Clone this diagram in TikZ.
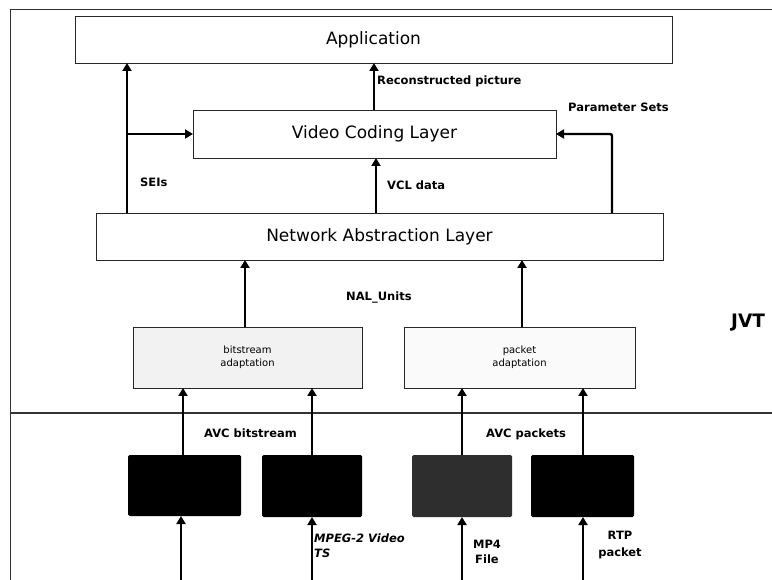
\documentclass[tikz,border=0pt]{standalone}
\usepackage{fontspec}
\setmainfont{DejaVu Sans}
\usetikzlibrary{arrows.meta}
\tikzset{
  x=1pt,y=-1pt,
  layerbox/.style={draw=black!85,line width=0.8pt,fill=white,inner sep=0pt,outer sep=0pt,font=\fontsize{17}{20}\selectfont},
  adaptbox/.style={draw=black!85,line width=0.8pt,inner sep=0pt,outer sep=0pt,align=center,font=\fontsize{10}{13}\selectfont},
  srcbox/.style={fill=black,rounded corners=1.5pt,inner sep=0pt,outer sep=0pt},
  arr/.style={line width=2.4pt,-{Triangle[length=8pt,width=9pt]}},
  lbl/.style={inner sep=0pt,anchor=west,font=\fontsize{11.5}{15}\selectfont\bfseries},
  frameline/.style={line width=0.9pt,draw=black!80}
}
\begin{document}
\begin{tikzpicture}
\useasboundingbox (0,0) rectangle (772,580);
% frame
\coordinate (ftl) at (10,9);
\coordinate (ftr) at (772,9);
\coordinate (fbl) at (10,580);
\coordinate (sl) at (10,413);
\coordinate (sr) at (772,413);
\draw[frameline] (fbl) -- (ftl) -- (ftr);
\draw[frameline,line width=1.2pt] (sl) -- (sr);
% layer boxes
\node[layerbox,minimum width=597pt,minimum height=47pt] (app) at (373.5,39.5) {Application};
\node[layerbox,minimum width=363pt,minimum height=48pt] (vcl) at (374.5,134) {Video Coding Layer};
\node[layerbox,minimum width=567pt,minimum height=47pt] (nal) at (379.5,236.5) {Network Abstraction Layer};
\node[adaptbox,fill=black!5,minimum width=229pt,minimum height=61pt] (bsa) at (247.5,357.5) {bitstream\\adaptation};
\node[adaptbox,fill=black!2,minimum width=231pt,minimum height=61pt] (pka) at (519.5,357.5) {packet\\adaptation};
% source boxes
\node[srcbox,minimum width=113pt,minimum height=61pt] (s1) at (184.5,485.5) {};
\node[srcbox,minimum width=100pt,minimum height=62pt] (s2) at (312,486) {};
\node[srcbox,fill=black!82,minimum width=100pt,minimum height=62pt] (s3) at (462,486) {};
\node[srcbox,minimum width=103pt,minimum height=62pt] (s4) at (582.5,486) {};
% free ends at bottom
\coordinate (i1) at (181,580);
\coordinate (i2) at (312,580);
\coordinate (i3) at (462,580);
\coordinate (i4) at (583,580);
% arrows top part
\draw[arr] (nal.north -| 127,0) -- (app.south -| 127,0);
\coordinate (seib) at (127,134);
\draw[arr] (seib) -- (vcl.west);
\draw[arr] (vcl.north -| 374,0) -- (app.south -| 374,0);
\draw[arr] (nal.north -| 376,0) -- (vcl.south -| 376,0);
\draw[arr,rounded corners=2pt] (nal.north -| 612,0) |- (vcl.east);
% NAL units
\draw[arr] (bsa.north -| 245,0) -- (nal.south -| 245,0);
\draw[arr] (pka.north -| 522,0) -- (nal.south -| 522,0);
% sources to adaptation
\draw[arr] (s1.north -| 183,0) -- (bsa.south -| 183,0);
\draw[arr] (s2.north) -- (bsa.south -| s2.north);
\draw[arr] (s3.north) -- (pka.south -| s3.north);
\draw[arr] (s4.north -| 583,0) -- (pka.south -| 583,0);
% inputs
\draw[arr] (i1) -- (s1.south -| i1);
\draw[arr] (i2) -- (s2.south -| i2);
\draw[arr] (i3) -- (s3.south -| i3);
\draw[arr] (i4) -- (s4.south -| i4);
% labels
\node[lbl] (lrec) at (377,81) {Reconstructed picture};
\node[lbl] (lpar) at (568,107) {Parameter Sets};
\node[lbl] (lsei) at (140,182) {SEIs};
\node[lbl] (lvcl) at (387,185) {VCL data};
\node[lbl] (lnal) at (346,297) {NAL\_Units};
\node[lbl] (lavb) at (204,433) {AVC bitstream};
\node[lbl] (lavp) at (486,434) {AVC packets};
\node[lbl,align=left,font=\fontsize{11.5}{15}\selectfont\bfseries\itshape] (lmpg) at (314,545.5) {MPEG-2 Video\\TS};
\node[lbl,anchor=center,align=center] (lmp4) at (487,552) {MP4\\File};
\node[lbl,anchor=center,align=center,font=\fontsize{11.5}{17}\selectfont\bfseries] (lrtp) at (620,545) {RTP\\packet};
\node[lbl,font=\fontsize{18.5}{22}\selectfont\bfseries] (ljvt) at (731,323) {JVT};
\end{tikzpicture}
\end{document}
